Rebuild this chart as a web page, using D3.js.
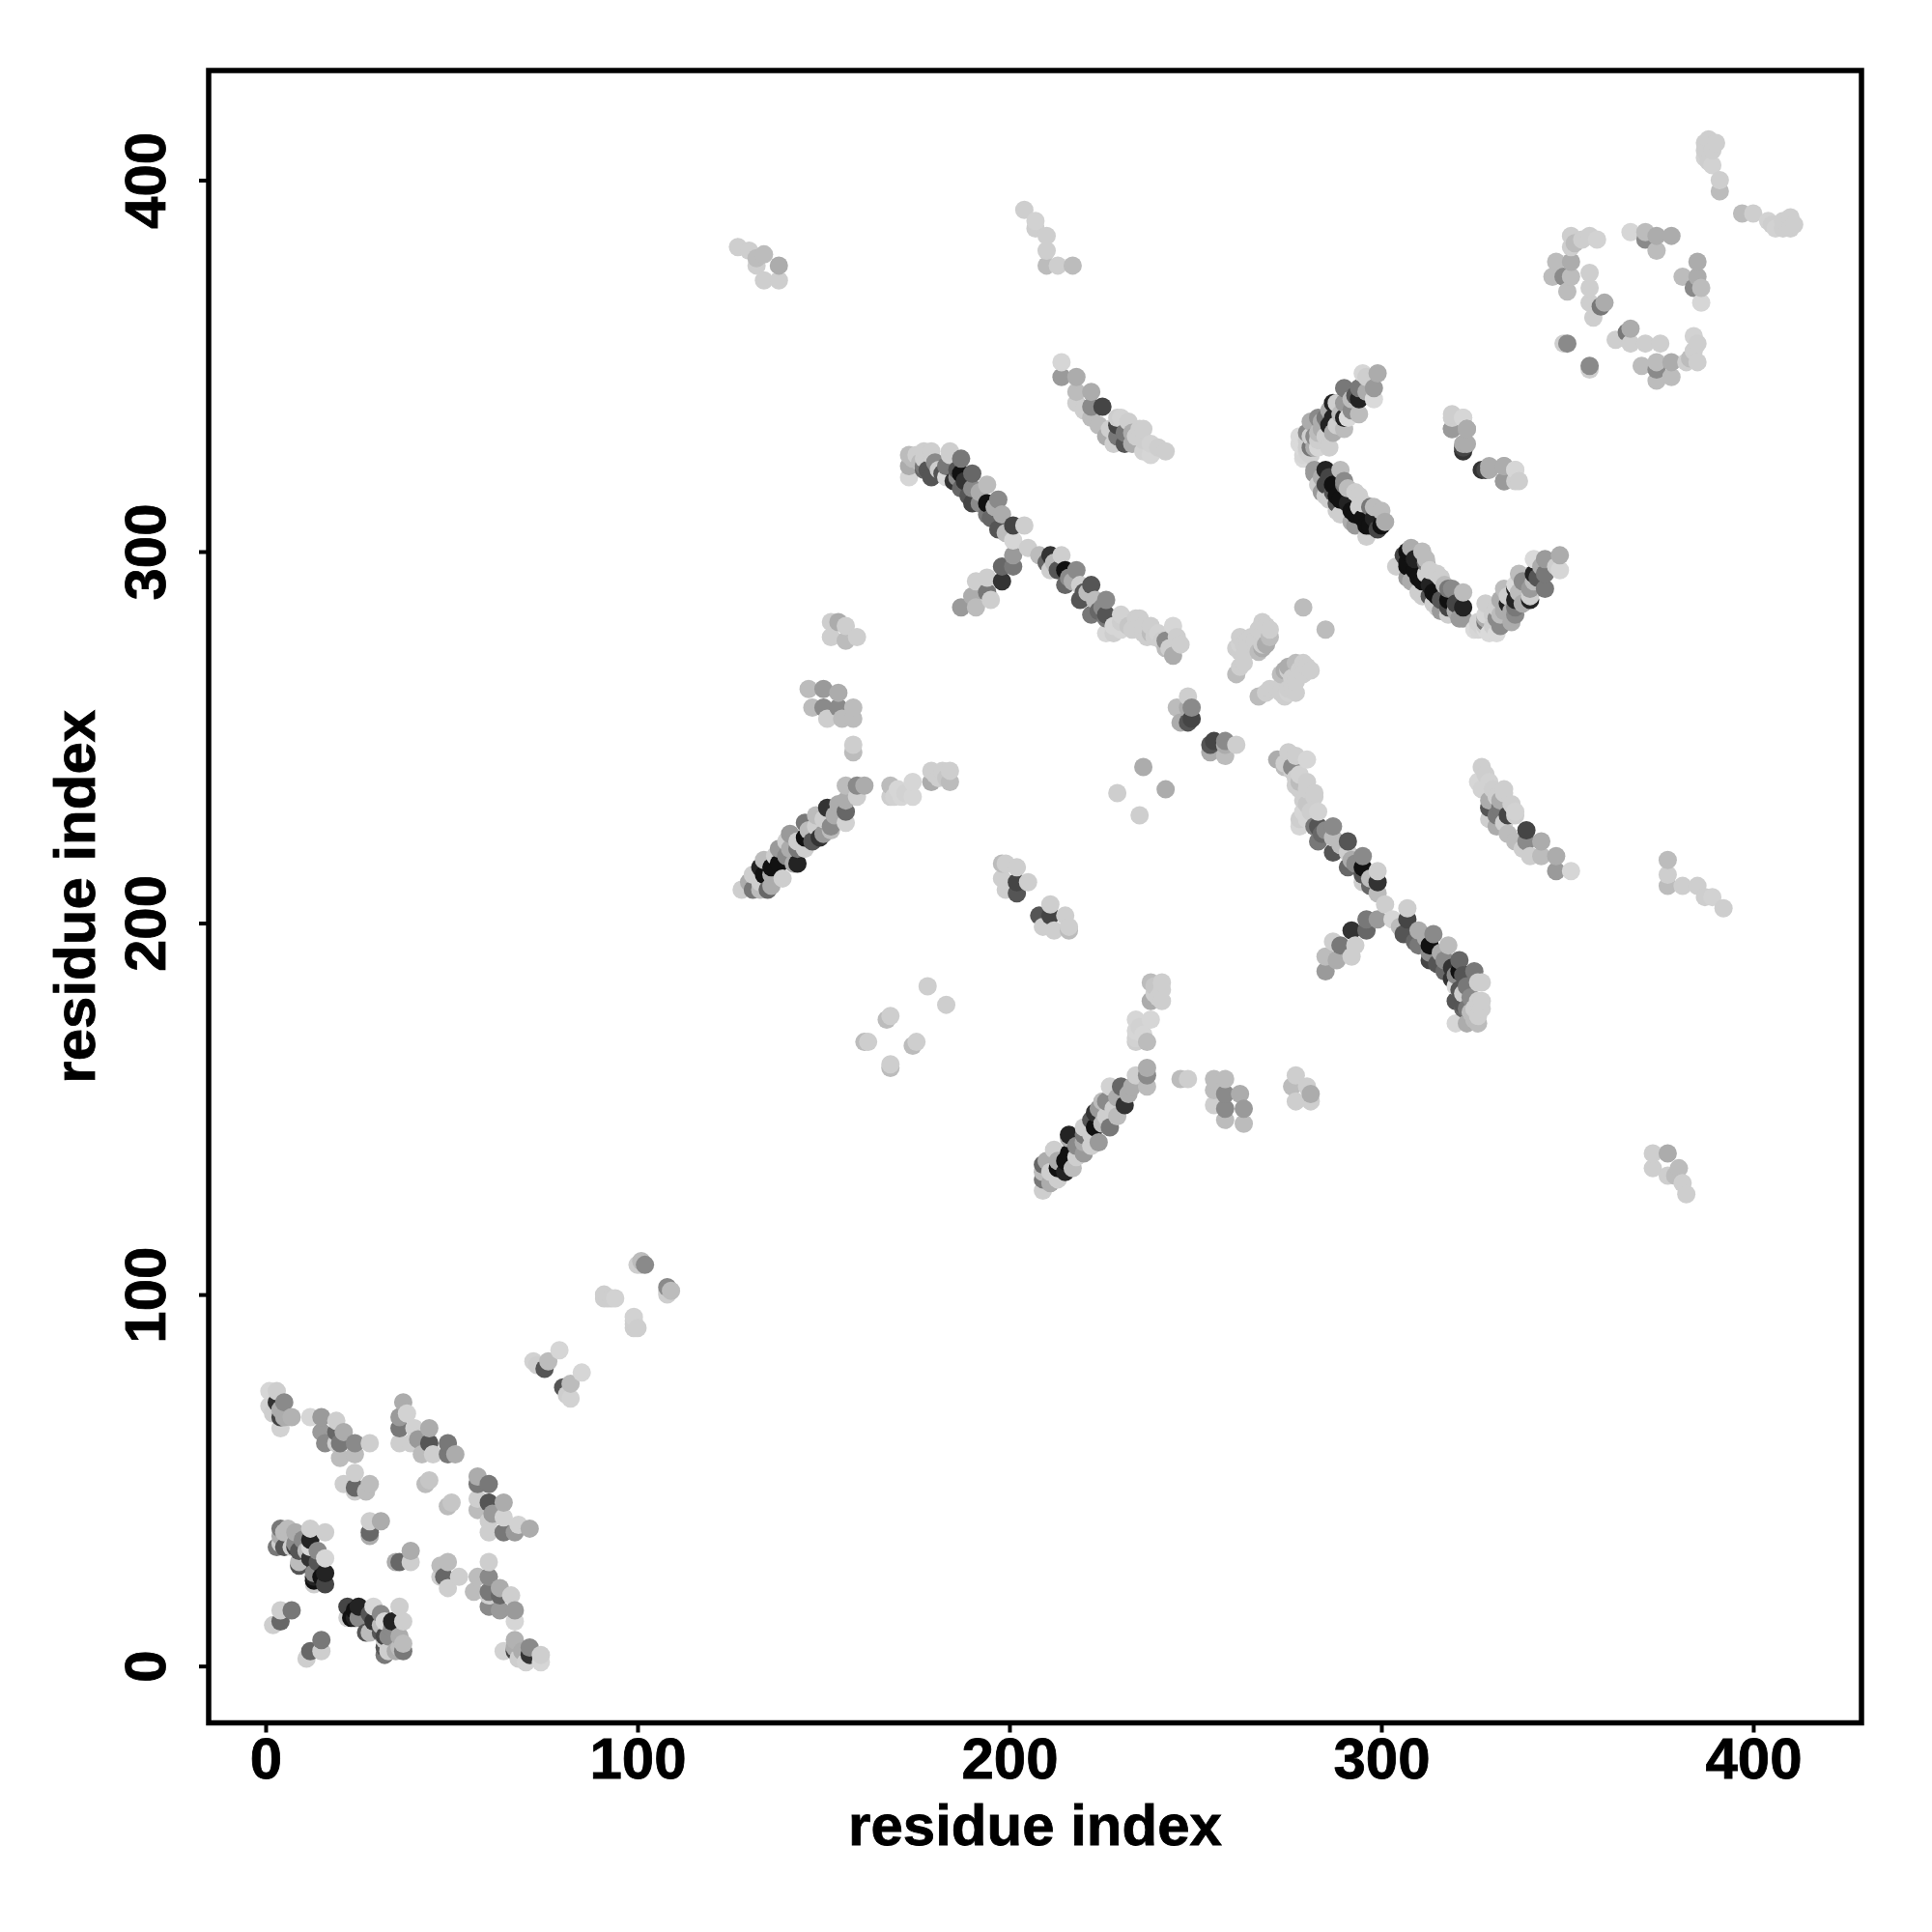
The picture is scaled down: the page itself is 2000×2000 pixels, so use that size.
<!DOCTYPE html>
<html>
<head>
<meta charset="utf-8">
<script src="https://cdn.jsdelivr.net/npm/d3@7/dist/d3.min.js"></script>
<style>html,body{margin:0;padding:0;background:#fff}svg{display:block}</style>
</head>
<body>
<svg id="chart" width="2000" height="2000"></svg>
<script>
// Contacts as [residue i, residue j, contact strength 0-100]; each contact is plotted at (i,j) and (j,i).
const nTerminalContacts = [
[1,74,2],[3,74,6],[1,70,4],[2,68,6],[4,64,4],[3,71,83],[5,71,40],[4,67,74],[5,67,23],[7,67,20],[4,69,23],
[12,67,2],[15,67,32],[19,66,6],[15,63,32],[16,60,40],[19,63,57],[21,63,23],[20,60,49],[24,60,40],[28,60,6],[19,60,6],[20,56,15],[24,57,15],[24,52,6],[21,49,6],[28,49,15],[24,48,57],[24,47,6],[27,47,15],
[37,71,23],[38,68,4],[36,67,32],[36,64,49],[36,60,6],[40,64,4],[39,60,6],[41,61,32],[44,64,23],[44,60,66],[42,57,15],[45,57,6],[49,60,49],[49,57,49],[51,57,23],
[43,49,15],[44,50,10],[28,39,6],[31,39,23],[28,36,57],[28,35,23],
[4,37,49],[6,37,15],[4,35,23],[4,33,6],[5,32,66],[8,36,23],[12,37,6],[16,36,6],[12,34,91],[12,32,2],[9,31,66],[12,29,83],[9,28,15],[16,29,2],[16,25,91],[13,25,40],[13,22,6],[16,22,74],[13,23,100],[7,32,6],[9,27,66],[3,32,49],[8,32,74],[14,28,66],[13,24,91],[5,36,15],[8,33,40],[10,34,40],[14,31,40],[11,31,15],[15,24,100],
[7,15,49],[4,15,6],[4,12,57],[2,11,6]
];
const linkerContacts = [
[72,82,4],[76,82,15],[75,80,66],[79,85,2],[73,81,6],
[92,99,6],[94,99,4],[93,99,6],[91,99,6],[91,100,6],[100,108,6],[101,108,6],[102,108,40],[101,109,15]
];
const sheetContactsA = [
[161,237,23],[159,237,40],[156,237,15],[159,234,6],[156,233,23],[156,230,57],[156,227,4],[151,231,83],[152,226,40],[152,225,15],[148,229,15],[145,227,49],[149,223,83],[145,223,100],[145,220,6],[141,224,32],[141,220,23],[142,216,23],[143,216,91],[138,216,100],[138,220,32],[134,217,15],[134,213,100],[139,212,6],[135,209,57],[131,209,49],[131,213,6],[128,209,6],
[133,211,6],[136,213,23],[137,218,6],[140,218,40],[140,222,6],[143,220,49],[143,222,6],[146,225,15],[147,222,66],[148,226,6],[150,228,6],[153,229,23],[154,232,23],[150,224,32],[136,210,23],[130,211,23],[133,215,91],[136,215,100],[133,209,15],
[184,238,15],[184,241,6],[179,238,23],[179,241,6],[181,239,6],[180,240,6],[182,241,6],[183,239,10],[168,234,6],[168,237,15],[174,234,2],[174,238,2],[171,234,2],[170,236,2],[172,235,4],[169,234,4],
[158,246,15],[158,248,6],[158,255,15],[158,258,15],[155,255,15],[151,255,6],[154,258,40],[154,262,23],[150,258,40],[150,263,32],[147,258,15],[146,263,15],
[159,277,6],[156,276,15],[154,281,23],[152,277,6],[152,281,6],[156,280,6],
[161,168,15],[162,168,6],[168,175,6],[167,174,15],[178,183,6]
];
const sheetContactsB = [
[198,216,15],[198,212,6],[202,215,6],[202,211,74],[202,208,66],[205,211,6],[199,209,6],[199,216,6],
[246,275,6],[244,272,23],[242,274,15],[245,277,6],[244,280,2],[238,280,6],[237,277,6],[235,282,6],[230,279,2],[230,283,4],[226,278,2],[226,282,49],[226,283,66],[226,287,40],[223,287,15],[222,283,49],[222,291,66],[219,287,66],[219,291,6],[218,295,40],[215,291,57],[215,295,100],[214,299,6],[211,299,83],[211,295,6],[208,299,15],[205,301,6],[201,299,32],[201,296,49],[198,296,57],[198,292,83],[194,293,6],[194,289,49],[195,287,6],[191,285,15],[187,285,32],[190,288,23],[191,292,6],[242,276,40],[236,280,6],[234,282,6],[232,280,10],[228,280,2],
[243,274,6],[241,276,6],[240,278,4],[239,277,6],[238,278,15],[236,278,6],[233,279,6],[230,281,6],[228,278,6],[225,285,40],[224,284,57],[220,289,66],[221,289,15],[217,292,23],[216,293,40],[213,295,66],[212,297,15],[210,297,57],
[201,303,2],[204,307,6],[201,307,74],[197,306,66],[198,310,23],[197,314,40],[194,310,49],[194,313,100],[194,318,15],[190,313,74],[190,317,40],[190,321,57],[187,317,57],[187,321,100],[187,325,49],[183,320,0],[184,326,6],[179,326,6],[177,322,57],[174,325,15],[173,320,2],[173,323,23],[177,327,6],[186,322,66],[182,321,66],[180,324,40],[184,327,6],[173,326,15],[177,325,6],[179,327,6],[177,323,49],
[176,324,15],[175,326,6],[178,322,66],[179,320,66],[181,322,6],[183,323,49],[185,319,83],[186,320,40],[188,319,83],[189,315,66],[192,313,40],[192,316,23],[195,309,57],[196,312,23],[199,305,15],
[242,327,6],[238,326,2],[236,330,6],[233,332,23],[232,335,6],[231,329,66],[229,331,49],[229,336,6],[229,334,74],[226,331,23],[225,339,74],[222,336,15],[222,339,40],[222,343,23],[218,340,6],[218,343,15],[218,347,23],[214,347,32],[214,351,2],
[240,328,6],[238,329,4],[236,327,4],[234,331,6],[235,333,6],[233,329,23],[231,332,49],[228,329,6],[227,333,6],[230,336,4],[224,334,15],[236,333,6],[220,338,6],
[217,377,15],[213,377,6],[210,377,15],[210,381,6],[210,385,6],[207,389,4],[207,387,6],[204,392,6],
[127,382,6],[130,381,6],[134,380,15],[132,379,15],[132,377,6],[138,377,23],[134,373,6],[138,373,6]
];
const sheetContactsC = [
[295,348,2],[299,348,23],[298,344,32],[298,341,0],[290,344,49],[294,344,49],[294,341,91],[287,340,91],[288,340,6],[290,340,32],[291,336,0],[294,337,15],[283,336,40],[287,336,91],[290,333,15],[287,332,23],[283,332,15],[280,332,40],[286,328,6],[282,328,23],[279,328,0],[279,325,0],[281,328,49],[278,331,0],[285,336,49],[282,331,40],[281,331,6],[281,335,23],
[280,327,4],[279,326,2],[278,329,0],[280,330,6],[283,330,6],[284,333,23],[286,334,91],[288,334,6],[286,338,23],[289,337,15],[292,338,40],[292,341,15],[284,335,23],[285,331,6],[283,328,2],[281,326,4],[280,328,6],[296,343,23],[296,347,6],[293,342,66],[290,336,91],
[282,322,32],[285,322,91],[289,322,15],[285,318,74],[290,319,40],[285,315,6],[288,315,100],[293,316,6],[292,311,100],[288,311,6],[297,312,49],[300,311,15],[292,308,23],[296,307,100],[301,308,23],[300,307,100],[296,304,6],[293,307,32],[293,310,100],[294,315,6],[289,310,6],[289,314,100],[290,318,49],[286,314,6],[282,321,32],[297,307,100],
[284,320,23],[286,320,74],[287,318,100],[287,316,66],[291,313,91],[291,317,15],[295,313,6],[295,309,100],[298,309,91],[298,312,15],[294,312,6],[299,306,74],[284,316,32],[288,313,66],[283,318,6],
[319,337,6],[322,336,4],[319,333,40],[323,333,23],[322,329,23],[322,328,74],[329,323,23],[327,322,83],[333,323,23],[336,322,2],[333,319,32],[336,319,6]
];
const nearDiagonalContacts = [
[279,285,15],[268,281,6],[268,278,6],[262,277,6],[261,274,6],[268,274,23],[262,269,6],[261,267,15],[267,273,15],[268,275,6],[265,277,6],
[266,276,6],[267,279,6],[269,280,6],[270,277,15],[269,275,23],[270,279,6],[264,276,6],[263,275,6],[263,270,6],[263,272,6],[262,275,4],[262,273,6],
[248,261,6],[249,258,40],[245,258,15],[249,255,74],[248,254,66],[248,258,23],[246,254,23],[229,235,6],[236,242,23]
];
const cTerminalContacts = [
[388,411,6],[390,410,6],[387,408,6],[387,406,4],[389,404,4],[391,400,6],[391,397,15],[387,410,6],[389,408,6],[388,405,6],
[367,386,2],[371,386,15],[371,384,40],[374,385,23],[378,385,23],[374,381,15],[351,385,6],[351,382,6],[356,385,6],[358,384,4],[354,384,6],[352,383,15],[351,378,23],[347,378,15],[346,374,15],[349,374,40],[351,374,15],[350,370,15],[356,375,6],[356,371,6],[356,367,6],[360,367,23],[359,366,49],[357,363,6],[350,356,40],[349,356,6]
];
const tickValues = [0, 100, 200, 300, 400];
const axisTitle = "residue index";

const contacts = [].concat(nTerminalContacts, linkerContacts, sheetContactsA, sheetContactsB, sheetContactsC, nearDiagonalContacts, cTerminalContacts);
const points = contacts.flatMap(([i, j, s]) => [{x: i, y: j, s}, {x: j, y: i, s}])
  .sort((a, b) => d3.ascending(a.x, b.x) || d3.ascending(a.y, b.y));

const left = 216, right = 1927, top_ = 73, bottom = 1783.5;
const x = d3.scaleLinear().domain([-15.32, 429.1]).range([left, right]);
const y = d3.scaleLinear().domain([-15.3, 429.5]).range([bottom, top_]);
const shade = d3.scaleLinear().domain([0, 100]).range(["#dadada", "#111111"]);

const svg = d3.select("#chart");
svg.append("g").selectAll("circle").data(points).join("circle")
  .attr("cx", d => x(d.x)).attr("cy", d => y(d.y)).attr("r", 9.5)
  .attr("fill", d => shade(d.s));

svg.append("rect").attr("x", left).attr("y", top_).attr("width", right - left).attr("height", bottom - top_)
  .attr("fill", "none").attr("stroke", "#000").attr("stroke-width", 5.5);

const font = "'Liberation Sans', Arial, sans-serif";
const boldText = sel => sel.attr("fill", "#000").attr("stroke", "#000").attr("stroke-width", 0.8)
  .attr("font-family", font).attr("font-weight", "bold").attr("font-size", 60);

const xAxis = svg.append("g").attr("transform", `translate(0,${bottom})`)
  .call(d3.axisBottom(x).tickValues(tickValues).tickFormat(d3.format("d")).tickSize(10).tickPadding(8));
const yAxis = svg.append("g").attr("transform", `translate(${left},0)`)
  .call(d3.axisLeft(y).tickValues(tickValues).tickFormat(d3.format("d")).tickSize(10));
[xAxis, yAxis].forEach(g => {
  g.select(".domain").remove();
  g.selectAll(".tick line").attr("stroke", "#000").attr("stroke-width", 4);
  g.selectAll(".tick text").call(boldText);
});
xAxis.selectAll(".tick text").attr("dy", null).attr("y", 57);
yAxis.selectAll(".tick text").attr("dy", null).attr("x", null).attr("y", null)
  .attr("text-anchor", "middle")
  .attr("transform", `translate(${171 - left},0) rotate(-90)`);

svg.append("text").attr("x", (left + right) / 2).attr("y", 1910).attr("text-anchor", "middle")
  .call(boldText).text(axisTitle);
svg.append("text").attr("transform", `translate(97.5,${(top_ + bottom) / 2}) rotate(-90)`).attr("text-anchor", "middle")
  .call(boldText).text(axisTitle);
</script>
</body>
</html>
